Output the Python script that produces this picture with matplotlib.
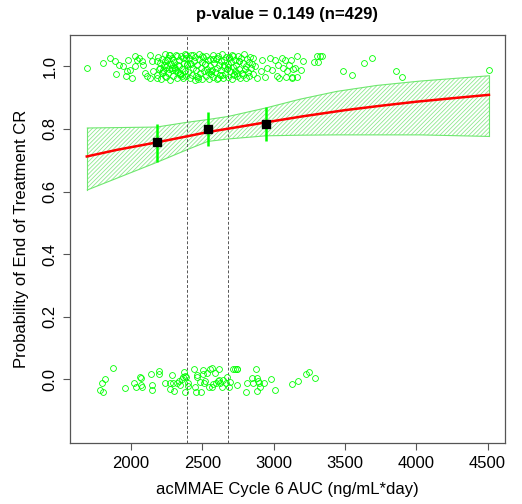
import numpy as np
import matplotlib
matplotlib.use("Agg")
import matplotlib.pyplot as plt

plt.rcParams['font.family'] = ['Liberation Sans', 'DejaVu Sans']
plt.rcParams['hatch.linewidth'] = 0.6

# logistic fit curve
curve_x = [1690, 1900, 2180, 2400, 2538, 2750, 2944, 3200, 3500, 3750, 4000, 4250, 4510]
curve_y = [0.712, 0.733, 0.757, 0.777, 0.790, 0.806, 0.821, 0.840, 0.860, 0.874, 0.887, 0.898, 0.909]

# 95% CI band edges
band_x = [1694, 2180, 2390, 2538, 2683, 2945, 3185, 3443, 3723, 4027, 4513]
band_hi = [0.803, 0.806, 0.821, 0.830, 0.840, 0.867, 0.895, 0.920, 0.939, 0.953, 0.970]
band_lo = [0.605, 0.693, 0.733, 0.760, 0.768, 0.778, 0.780, 0.781, 0.781, 0.781, 0.776]

# tertile summaries
bin_x = [2180, 2538, 2944]
bin_p = [0.757, 0.800, 0.816]
bin_lo = [0.694, 0.744, 0.760]
bin_hi = [0.815, 0.855, 0.870]
cutoffs = [2390, 2682]

# responders (jittered around 1)
resp_pts = [
    (1689, 0.996), (1802, 1.012), (1853, 1.027), (1888, 1.016), (1895, 0.975), (1918, 1.005),
    (1942, 1.002), (1970, 0.986), (1981, 1.021), (1965, 0.968), (1993, 0.989), (2005, 0.963),
    (2028, 1.034), (2040, 1.021), (2028, 1.000), (2058, 1.027), (2075, 1.018), (2086, 1.003),
    (2098, 0.979), (2110, 0.968), (2133, 1.037), (2145, 1.016), (2156, 0.984), (2133, 0.963),
    (2184, 1.018), (2203, 0.995), (2215, 0.979), (2238, 0.968), (2262, 1.027), (2274, 1.037),
    (2297, 1.021), (2320, 1.032), (2332, 1.005), (2344, 0.979), (2356, 0.968), (2367, 1.027),
    (2386, 1.037), (2391, 1.005), (2285, 0.995), (2309, 0.989), (2250, 1.005), (2227, 0.989),
    (2180, 0.963),
    (2185, 0.972), (2192, 1.031), (2198, 0.990), (2205, 1.012), (2210, 0.961), (2218, 1.024),
    (2224, 0.983), (2231, 1.004), (2236, 1.038), (2243, 0.966), (2249, 0.997), (2255, 1.019),
    (2262, 0.978), (2268, 1.035), (2273, 0.958), (2279, 1.008), (2286, 0.987), (2291, 1.027),
    (2298, 0.969), (2304, 1.015), (2310, 0.994), (2316, 1.036), (2322, 0.962), (2329, 0.981),
    (2335, 1.021), (2340, 1.001), (2347, 0.973), (2353, 1.033), (2358, 0.991), (2364, 0.964),
    (2371, 1.011), (2377, 0.985), (2383, 1.026), (2389, 0.970), (2395, 1.006), (2236, 1.018),
    (2301, 0.999), (2344, 0.975), (2268, 0.993), (2380, 1.040),
    (2402, 0.983), (2408, 1.027), (2413, 0.962), (2419, 1.009), (2424, 1.036), (2430, 0.974),
    (2435, 0.995), (2441, 1.018), (2446, 0.958), (2452, 1.031), (2457, 0.988), (2463, 1.003),
    (2468, 0.967), (2474, 1.022), (2479, 1.039), (2485, 0.979), (2490, 0.996), (2496, 1.014),
    (2501, 0.961), (2507, 1.029), (2512, 0.985), (2518, 1.007), (2523, 0.970), (2529, 1.034),
    (2534, 0.992), (2540, 1.019), (2545, 0.960), (2551, 1.001), (2556, 1.025), (2562, 0.976),
    (2567, 0.989), (2573, 1.037), (2578, 0.965), (2584, 1.011), (2589, 0.981), (2595, 1.023),
    (2600, 0.994), (2606, 0.959), (2611, 1.032), (2617, 1.005), (2622, 0.972), (2628, 1.016),
    (2633, 0.987), (2639, 1.040), (2644, 0.963), (2650, 0.998), (2655, 1.020), (2661, 0.977),
    (2666, 1.030), (2672, 0.990), (2677, 1.008), (2683, 0.966), (2688, 1.026), (2694, 0.984),
    (2699, 1.013), (2705, 0.960), (2710, 1.035), (2716, 0.997), (2721, 0.973), (2727, 1.021),
    (2732, 0.986), (2738, 1.004), (2743, 0.968), (2749, 1.033), (2754, 0.993), (2760, 1.017),
    (2765, 0.962), (2771, 1.028), (2776, 0.980), (2782, 1.010), (2787, 0.971), (2793, 1.038),
    (2798, 0.991), (2804, 1.002), (2809, 0.964), (2815, 1.024), (2820, 0.982), (2826, 1.015),
    (2831, 0.969), (2837, 1.031), (2842, 0.996), (2848, 1.006), (2853, 0.975),
    (2415, 1.012), (2455, 0.968), (2497, 1.034), (2538, 0.981), (2575, 1.022), (2612, 0.963),
    (2650, 1.003), (2690, 1.029), (2725, 0.976), (2760, 1.017), (2800, 0.990), (2432, 1.037),
    (2470, 0.959), (2520, 1.008), (2560, 0.985), (2600, 1.026), (2640, 0.971), (2680, 0.999),
    (2715, 1.033), (2745, 0.979),
    (2858, 1.028), (2870, 1.000), (2882, 0.963), (2912, 0.984), (2921, 1.021), (2940, 0.965),
    (2952, 0.995), (2975, 1.026), (2991, 0.989), (3010, 1.021), (3022, 0.968), (3033, 1.003),
    (3040, 0.963), (3057, 1.028), (3068, 0.995), (3080, 1.021), (3085, 0.965), (3092, 0.984),
    (3108, 1.005), (3138, 0.992), (3131, 0.963),
    (3122, 1.021), (3166, 1.034), (3204, 1.016), (3150, 0.996), (3192, 0.989), (3127, 0.965),
    (3162, 0.965), (3283, 1.014), (3314, 1.014), (3302, 1.034), (3325, 1.034), (3337, 1.034),
    (3489, 0.984), (3548, 0.971), (3634, 1.012), (3692, 1.027), (3858, 0.984), (3901, 0.967),
    (4509, 0.989),
]

# non-responders (jittered around 0)
nonresp_pts = [
    (1783, -0.036), (1801, -0.042), (1794, -0.011), (1818, 0.001), (1876, 0.035), (1958, -0.027),
    (2021, -0.013), (2035, -0.024), (2063, 0.008), (2070, 0.005), (2070, -0.020), (2075, -0.024),
    (2138, 0.018), (2147, -0.019), (2147, -0.034), (2199, 0.027), (2199, 0.017), (2241, -0.013),
    (2274, -0.032), (2288, 0.014), (2274, -0.013), (2297, -0.011), (2304, -0.037), (2320, -0.013),
    (2334, -0.007), (2344, -0.020), (2355, 0.000), (2367, 0.006), (2372, 0.022), (2379, 0.011),
    (2381, -0.040), (2386, 0.006), (2402, -0.021), (2402, -0.011), (2442, 0.033), (2447, -0.024),
    (2456, -0.040), (2461, 0.006), (2465, 0.012), (2484, -0.010), (2493, -0.040), (2503, 0.016),
    (2507, 0.030), (2512, -0.013), (2521, -0.007), (2531, 0.019), (2547, -0.024), (2554, 0.032),
    (2566, 0.035), (2570, -0.024), (2577, -0.016), (2589, 0.019), (2596, -0.013), (2608, -0.007),
    (2615, 0.032), (2620, -0.002), (2624, -0.011), (2641, -0.024), (2648, -0.004), (2664, -0.011),
    (2676, 0.008), (2690, -0.024), (2694, -0.010), (2713, 0.033), (2729, 0.032), (2741, 0.034),
    (2746, 0.032), (2746, -0.018), (2807, -0.042), (2816, -0.013), (2846, 0.003), (2858, -0.011),
    (2874, 0.032), (2881, 0.005), (2886, -0.037), (2893, -0.007), (2900, -0.011), (2905, -0.024),
    (2933, -0.013), (2980, 0.001), (3010, -0.034), (3127, -0.015), (3171, -0.007), (3225, 0.016),
    (3251, 0.024), (3291, 0.005),
]

fig = plt.figure(figsize=(5.22, 5.04), dpi=100)
ax = fig.add_axes([0.134, 0.121, 0.833, 0.810])

green = '#00ff00'
resp = np.array(resp_pts)
nonresp = np.array(nonresp_pts)
for pts in (resp, nonresp):
    ax.plot(pts[:, 0], pts[:, 1], 'o', mfc='none', mec=green, ms=4.2, mew=0.6, zorder=2)

# CI band, hatched
edge = '#6ee86e'
poly_x = band_x + band_x[::-1]
poly_y = band_hi + band_lo[::-1]
ax.fill(poly_x, poly_y, facecolor='none', edgecolor='#8fe98f', hatch='////////', lw=0, zorder=1)
ax.plot(band_x, band_hi, color=edge, lw=0.8, zorder=1)
ax.plot(band_x, band_lo, color=edge, lw=0.8, zorder=1)
ax.plot([band_x[0], band_x[0]], [band_lo[0], band_hi[0]], color=edge, lw=0.8, zorder=1)
ax.plot([band_x[-1], band_x[-1]], [band_lo[-1], band_hi[-1]], color=edge, lw=0.8, zorder=1)

ax.plot(curve_x, curve_y, color='red', lw=1.8, zorder=3)

for c in cutoffs:
    ax.axvline(c, color='#555555', lw=0.7, ls=(0, (3, 2)), zorder=1)

ax.vlines(bin_x, bin_lo, bin_hi, color=green, lw=1.8, zorder=4)
ax.plot(bin_x, bin_p, 's', color='black', ms=5.8, zorder=5)

ax.set_xlim(1572, 4621)
ax.set_ylim(-0.204, 1.101)
ax.set_xticks([2000, 2500, 3000, 3500, 4000, 4500])
ax.set_yticks([0.0, 0.2, 0.4, 0.6, 0.8, 1.0])
ax.set_yticklabels(['0.0', '0.2', '0.4', '0.6', '0.8', '1.0'], rotation=90, va='center')
ax.tick_params(labelsize=12, length=5, color='#555555', direction='out', pad=4)
for s in ax.spines.values():
    s.set_color('#555555')
    s.set_linewidth(0.9)

ax.set_xlabel('acMMAE Cycle 6 AUC (ng/mL*day)', fontsize=12, labelpad=8)
ax.set_ylabel('Probability of End of Treatment CR', fontsize=12, labelpad=10)
ax.set_title('p-value = 0.149 (n=429)', fontsize=12, fontweight='bold', pad=11)

fig.savefig('out.png', dpi=100)
